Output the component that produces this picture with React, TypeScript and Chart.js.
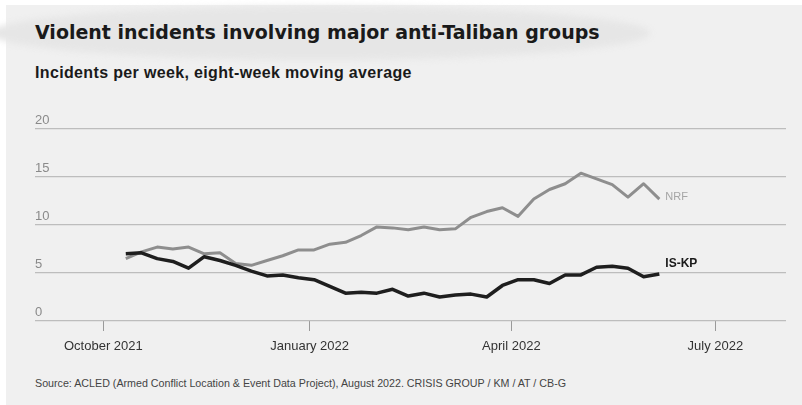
import React, { useEffect, useRef } from 'react';
import { Chart, registerables } from 'chart.js';

Chart.register(...registerables);

// ---- data ----
const axisOrigin = '2021-10-01';
const firstWeek = '2021-10-11';
const seriesNames = ['IS-KP', 'NRF'];
const iskpValues = [7.0, 7.1, 6.5, 6.2, 5.5, 6.7, 6.3, 5.8, 5.2, 4.7, 4.8, 4.5, 4.3, 3.6, 2.9, 3.0, 2.9, 3.3, 2.6, 2.9, 2.5, 2.7, 2.8, 2.5, 3.7, 4.3, 4.3, 3.9, 4.8, 4.8, 5.6, 5.7, 5.5, 4.6, 4.9];
const nrfValues = [6.5, 7.2, 7.7, 7.5, 7.7, 7.0, 7.1, 6.0, 5.8, 6.3, 6.8, 7.4, 7.4, 8.0, 8.2, 8.9, 9.8, 9.7, 9.5, 9.8, 9.5, 9.6, 10.8, 11.4, 11.8, 10.9, 12.7, 13.7, 14.3, 15.4, 14.8, 14.2, 12.9, 14.3, 12.7];
const tickDates = ['2021-10-01', '2022-01-01', '2022-04-01', '2022-07-01'];
const tickLabels = ['October 2021', 'January 2022', 'April 2022', 'July 2022'];
const yTicks = [0, 5, 10, 15, 20];

const titleText = 'Violent incidents involving major anti-Taliban groups';
const subtitleText = 'Incidents per week, eight-week moving average';
const sourceText = 'Source: ACLED (Armed Conflict Location & Event Data Project), August 2022. CRISIS GROUP / KM / AT / CB-G';

const dayOf = (d: string) => (Date.parse(d) - Date.parse(axisOrigin)) / 86400000;
const toPoints = (vals: number[]) => vals.map((v, i) => ({ x: dayOf(firstWeek) + 7 * i, y: v }));

const FONT = "'Liberation Sans', Arial, sans-serif";

const endLabels = {
  id: 'endLabels',
  afterDatasetsDraw(chart: any) {
    const ctx = chart.ctx;
    const styles: any = {
      'IS-KP': { color: '#1a1a1a', font: `bold 12px ${FONT}`, dx: 6, dy: -10 },
      NRF: { color: '#a5a5a5', font: `11px ${FONT}`, dx: 6, dy: -2 },
    };
    chart.data.datasets.forEach((ds: any, i: number) => {
      const meta = chart.getDatasetMeta(i);
      const pt = meta.data[meta.data.length - 1];
      if (!pt) return;
      const s = styles[ds.label];
      ctx.save();
      ctx.fillStyle = s.color;
      ctx.font = s.font;
      ctx.textBaseline = 'middle';
      ctx.textAlign = 'left';
      ctx.fillText(ds.label, pt.x + s.dx, pt.y + s.dy);
      ctx.restore();
    });
  },
};

export default function App() {
  const ref = useRef<HTMLCanvasElement | null>(null);

  useEffect(() => {
    if (!ref.current) return;
    const chart = new Chart(ref.current, {
      type: 'line',
      data: {
        datasets: [
          {
            label: seriesNames[0],
            data: toPoints(iskpValues),
            borderColor: '#1e1e1e',
            borderWidth: 3.5,
            pointRadius: 0,
            tension: 0,
            borderJoinStyle: 'round',
          },
          {
            label: seriesNames[1],
            data: toPoints(nrfValues),
            borderColor: '#8e8e8e',
            borderWidth: 3,
            pointRadius: 0,
            tension: 0,
            borderJoinStyle: 'round',
          },
        ],
      },
      options: {
        responsive: false,
        animation: false,
        events: [],
        layout: { padding: { top: 129, left: 35, right: 16, bottom: 0 } },
        plugins: { legend: { display: false }, tooltip: { enabled: false } },
        scales: {
          x: {
            type: 'linear',
            min: -30.5,
            max: 304.5,
            afterBuildTicks: (s: any) => {
              s.ticks = tickDates.map((d) => ({ value: dayOf(d) }));
            },
            afterFit: (s: any) => {
              s.height = 84;
            },
            ticks: {
              autoSkip: false,
              maxRotation: 0,
              padding: 8,
              color: '#333333',
              font: { family: FONT, size: 13 },
              callback: (_v: any, i: number) => tickLabels[i],
            },
            grid: { drawOnChartArea: false, drawTicks: true, tickLength: 10, tickColor: '#9a9a9a', lineWidth: 1 },
            border: { display: false },
          },
          y: {
            min: 0,
            max: 20,
            afterBuildTicks: (s: any) => {
              s.ticks = yTicks.map((v) => ({ value: v }));
            },
            afterFit: (s: any) => {
              s.width = 0;
            },
            ticks: {
              mirror: true,
              padding: 0,
              labelOffset: -9,
              color: '#8a8a8a',
              font: { family: FONT, size: 13 },
            },
            grid: { color: '#bdbdbd', lineWidth: 1.2, drawTicks: false },
            border: { display: false },
          },
        },
      },
      plugins: [endLabels],
    });
    return () => chart.destroy();
  }, []);

  return (
    <div
      style={{
        position: 'fixed',
        left: 0,
        top: 0,
        width: 802,
        height: 405,
        background: '#f0f0f0',
        overflow: 'hidden',
        fontFamily: FONT,
      }}
    >
      <div style={{ position: 'absolute', left: 0, top: 0, width: 802, height: 5, background: '#ffffff' }} />
      <div style={{ position: 'absolute', left: 0, top: 0, width: 6, height: 405, background: '#ffffff' }} />
      <div
        style={{
          position: 'absolute',
          left: -10,
          top: 6,
          width: 660,
          height: 54,
          borderRadius: '50%',
          background: '#e6e6e6',
          filter: 'blur(3px)',
        }}
      />
      <div
        style={{
          position: 'absolute',
          left: 35,
          top: 23,
          fontFamily: "'DejaVu Sans', sans-serif",
          fontWeight: 'bold',
          fontSize: 19,
          lineHeight: '19px',
          color: '#1a1a1a',
          whiteSpace: 'nowrap',
        }}
      >
        {titleText}
      </div>
      <div
        style={{
          position: 'absolute',
          left: 35,
          top: 65,
          fontWeight: 'bold',
          fontSize: 16,
          lineHeight: '16px',
          letterSpacing: '0.35px',
          color: '#1a1a1a',
          whiteSpace: 'nowrap',
        }}
      >
        {subtitleText}
      </div>
      <div
        style={{
          position: 'absolute',
          left: 35,
          top: 378,
          fontSize: 10.7,
          lineHeight: '11px',
          color: '#444444',
          whiteSpace: 'nowrap',
        }}
      >
        {sourceText}
      </div>
      <canvas ref={ref} width={802} height={405} style={{ position: 'absolute', left: 0, top: 0 }} />
    </div>
  );
}
